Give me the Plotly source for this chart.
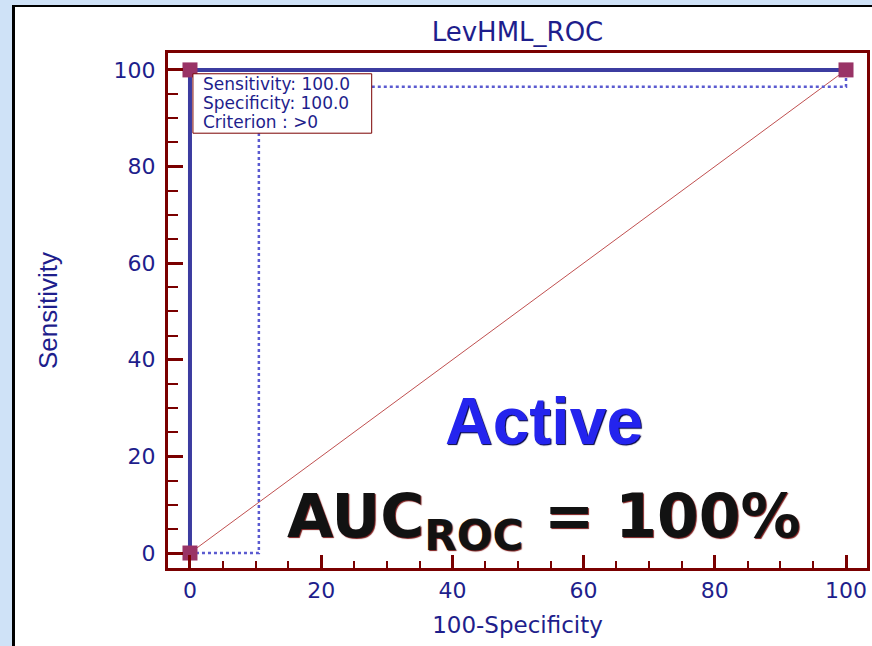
import plotly.graph_objects as go

# ROC curve for LevHML, with its confidence band and the chance diagonal
roc_fpr = [0, 0, 100]
roc_tpr = [0, 100, 100]
ci_fpr = [0, 10.5, 10.5, 100, 100]
ci_tpr = [0, 0, 96.5, 96.5, 100]
diag_fpr = [0, 100]
diag_tpr = [0, 100]
point_fpr = [0, 0, 100]
point_tpr = [0, 100, 100]

tick_vals = [0, 20, 40, 60, 80, 100]
tick_text = ["0", "20", "40", "60", "80", "100"]

sensitivity = 100.0
specificity = 100.0
criterion = ">0"
auc_pct = 100
group_label = "Active"

W, H = 872, 646
M_L, M_R, M_T, M_B = 168, 5, 53, 78
PW, PH = W - M_L - M_R, H - M_T - M_B

NAVY = "#1e1e8c"
FRAME = "#7a0000"
WIDE = "DejaVu Sans, Verdana, sans-serif"
ARIAL = "Liberation Sans, Arial, sans-serif"


def px_x(p):
    return (p - M_L) / PW


def px_y(p):
    return (H - M_B - p) / PH


fig = go.Figure()

fig.add_trace(go.Scatter(
    x=diag_fpr, y=diag_tpr, mode="lines",
    line=dict(color="#c05050", width=1), hoverinfo="skip"))
fig.add_trace(go.Scatter(
    x=ci_fpr, y=ci_tpr, mode="lines",
    line=dict(color="#5a5ad0", width=2.5, dash="dot"), hoverinfo="skip"))
fig.add_trace(go.Scatter(
    x=roc_fpr, y=roc_tpr, mode="lines",
    line=dict(color="#3c3ca0", width=4), hoverinfo="skip"))
fig.add_trace(go.Scatter(
    x=point_fpr, y=point_tpr, mode="markers",
    marker=dict(symbol="square", size=15, color="#993366"),
    cliponaxis=False, hoverinfo="skip"))

# criterion info box
fig.add_shape(type="rect", xref="x", yref="y", x0=0.45, x1=27.7, y0=86.9, y1=99.2,
              fillcolor="white", line=dict(color=FRAME, width=1), layer="above")
info_lines = [f"Sensitivity: {sensitivity:.1f}",
              f"Specificity: {specificity:.1f}",
              f"Criterion : {criterion}"]
for i, line in enumerate(info_lines):
    fig.add_annotation(x=1.7, y=97.0 - i * 3.9, xref="x", yref="y", text=line,
                       showarrow=False, xanchor="left", yanchor="middle",
                       font=dict(family=WIDE, size=17, color=NAVY))

fig.add_annotation(x=54, y=27.4, xref="x", yref="y", text=f"<b>{group_label}</b>",
                   showarrow=False, xanchor="center", yanchor="middle",
                   font=dict(family=ARIAL, size=66, color="#2424ee",
                             shadow="1px 1px 1px #000040"))
fig.add_annotation(x=54, y=6.8, xref="x", yref="y",
                   text=f"<b>AUC<sub>ROC</sub> = {auc_pct}%</b>",
                   showarrow=False, xanchor="center", yanchor="middle",
                   font=dict(family=WIDE, size=60, color="#121212",
                             shadow="1px 1px 1px #7a1a1a"))

# window decorations around the chart
BLUE = "#cfe2f7"
deco = [
    (0, 0, 12, H, BLUE), (12, 5, 15, H, "#000000"),
    (0, 0, W, 5, BLUE), (12, 5, W, 7, "#000000"),
]
for x0, y0, x1, y1, c in deco:
    fig.add_shape(type="rect", xref="paper", yref="paper",
                  x0=px_x(x0), x1=px_x(x1), y0=px_y(y1), y1=px_y(y0),
                  fillcolor=c, line=dict(width=0), layer="below")

axis_common = dict(
    showgrid=False, zeroline=False, showline=True, linecolor=FRAME, linewidth=3,
    mirror=True, ticks="inside", tickcolor=FRAME, tickwidth=3,
    tickvals=tick_vals, ticktext=tick_text,
    tickfont=dict(family=WIDE, size=22, color=NAVY),
)

fig.update_layout(
    width=W, height=H,
    margin=dict(l=M_L, r=M_R, t=M_T, b=M_B, autoexpand=False),
    paper_bgcolor="white", plot_bgcolor="white",
    showlegend=False,
    title=dict(text="LevHML_ROC", x=0.5, xref="paper", xanchor="center",
               y=1, yref="paper", yanchor="bottom", pad=dict(b=12),
               font=dict(family=WIDE, size=26, color=NAVY)),
    xaxis=dict(**axis_common, range=[-3.35, 103.2], ticklen=13,
               ticklabelstandoff=1,
               minor=dict(dtick=5, ticks="inside", ticklen=7, tickwidth=2, tickcolor=FRAME),
               title=dict(text="100-Specificity", standoff=15,
                          font=dict(family=WIDE, size=23, color=NAVY))),
    yaxis=dict(**axis_common, range=[-3.1, 103.5], ticklen=15,
               ticklabelstandoff=5,
               minor=dict(dtick=5, ticks="inside", ticklen=10, tickwidth=2, tickcolor=FRAME),
               title=dict(text="Sensitivity", standoff=49,
                          font=dict(family=ARIAL, size=26, color=NAVY))),
)

fig.write_html("out.html")
